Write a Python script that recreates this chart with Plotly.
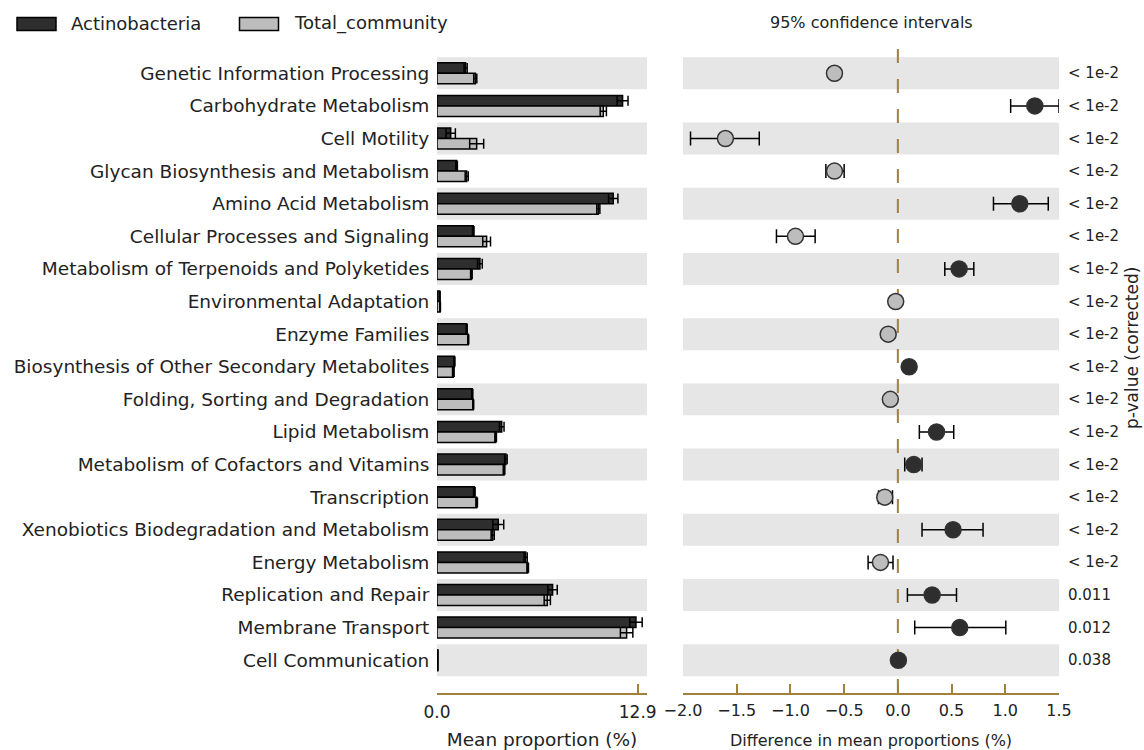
import plotly.graph_objects as go

categories = [
    "Genetic Information Processing",
    "Carbohydrate Metabolism",
    "Cell Motility",
    "Glycan Biosynthesis and Metabolism",
    "Amino Acid Metabolism",
    "Cellular Processes and Signaling",
    "Metabolism of Terpenoids and Polyketides",
    "Environmental Adaptation",
    "Enzyme Families",
    "Biosynthesis of Other Secondary Metabolites",
    "Folding, Sorting and Degradation",
    "Lipid Metabolism",
    "Metabolism of Cofactors and Vitamins",
    "Transcription",
    "Xenobiotics Biodegradation and Metabolism",
    "Energy Metabolism",
    "Replication and Repair",
    "Membrane Transport",
    "Cell Communication",
]

actino_mean = [1.84, 11.93, 0.88, 1.26, 11.33, 2.33, 2.76, 0.18, 1.91, 1.12, 2.27,
               4.16, 4.43, 2.40, 3.94, 5.70, 7.43, 12.79, 0.05]
actino_sd = [0.10, 0.35, 0.30, 0.05, 0.30, 0.05, 0.15, 0.02, 0.03, 0.03, 0.03,
             0.15, 0.08, 0.05, 0.35, 0.10, 0.30, 0.40, 0.01]
total_mean = [2.46, 10.69, 2.55, 1.91, 10.37, 3.19, 2.21, 0.20, 2.01, 1.05, 2.33,
              3.77, 4.31, 2.55, 3.58, 5.83, 7.09, 12.19, 0.05]
total_sd = [0.10, 0.20, 0.45, 0.10, 0.10, 0.25, 0.05, 0.02, 0.03, 0.05, 0.03,
            0.05, 0.05, 0.05, 0.10, 0.05, 0.20, 0.40, 0.01]

diff_mean = [-0.59, 1.275, -1.605, -0.59, 1.135, -0.953, 0.57, -0.02, -0.09, 0.105,
             -0.07, 0.36, 0.148, -0.122, 0.514, -0.162, 0.319, 0.576, 0.005]
diff_low = [-0.61, 1.05, -1.93, -0.67, 0.89, -1.13, 0.437, -0.035, -0.105, 0.09,
            -0.085, 0.20, 0.064, -0.18, 0.225, -0.277, 0.089, 0.157, -0.005]
diff_high = [-0.57, 1.50, -1.29, -0.50, 1.40, -0.77, 0.707, -0.005, -0.075, 0.12,
             -0.055, 0.52, 0.225, -0.05, 0.793, -0.045, 0.546, 1.005, 0.015]

p_values = ["< 1e-2"] * 16 + ["0.011", "0.012", "0.038"]

group_names = ["Actinobacteria", "Total_community"]

DARK = "#2e2e2e"
LIGHT = "#bdbdbd"
BAND = "#e6e6e6"
GOLD = "#a0813d"
TXT = "#222222"
FONT = "DejaVu Sans"

W, H = 1144, 750
idx = list(range(len(categories)))

fig = go.Figure()

fig.add_trace(go.Bar(
    name=group_names[0], orientation="h", x=actino_mean, y=idx,
    marker=dict(color=DARK, line=dict(color="black", width=1.5)),
    error_x=dict(type="data", array=actino_sd, color="black", thickness=1.5, width=5),
    xaxis="x", yaxis="y", showlegend=False,
))
fig.add_trace(go.Bar(
    name=group_names[1], orientation="h", x=total_mean, y=idx,
    marker=dict(color=LIGHT, line=dict(color="black", width=1.5)),
    error_x=dict(type="data", array=total_sd, color="black", thickness=1.5, width=5),
    xaxis="x", yaxis="y", showlegend=False,
))

err_plus = [h - m for h, m in zip(diff_high, diff_mean)]
err_minus = [m - l for m, l in zip(diff_mean, diff_low)]
pt_colors = [DARK if d > 0 else LIGHT for d in diff_mean]

fig.add_trace(go.Scatter(
    x=diff_mean, y=idx, mode="markers", xaxis="x2", yaxis="y",
    marker=dict(size=16, color=pt_colors, line=dict(color="#333333", width=1.5)),
    error_x=dict(type="data", symmetric=False, array=err_plus, arrayminus=err_minus,
                 color="black", thickness=1.5, width=7),
    showlegend=False,
))

shapes = []
for i in idx:
    if i % 2 == 0:
        for xr in ("x domain", "x2 domain"):
            shapes.append(dict(type="rect", xref=xr, yref="y", x0=0, x1=1,
                               y0=i - 0.49, y1=i + 0.49, fillcolor=BAND,
                               line=dict(width=0), layer="below"))
shapes.append(dict(type="line", xref="x2", yref="y domain", x0=0, x1=0, y0=1, y1=0,
                   line=dict(color=GOLD, width=2, dash="14px,16px"), layer="below"))


def px(x):
    return x / W


def py(y):
    return 1 - y / H


shapes.append(dict(type="rect", xref="paper", yref="paper", x0=px(17), x1=px(56),
                   y0=py(30.5), y1=py(17.5), fillcolor=DARK, line=dict(color="black", width=1.5)))
shapes.append(dict(type="rect", xref="paper", yref="paper", x0=px(239.5), x1=px(278.5),
                   y0=py(30.5), y1=py(17.5), fillcolor=LIGHT, line=dict(color="black", width=1.5)))

annotations = [
    dict(text=group_names[0], xref="paper", yref="paper", x=px(69), y=py(23.5),
         xanchor="left", yanchor="middle", showarrow=False, font=dict(size=18, color=TXT)),
    dict(text=group_names[1], xref="paper", yref="paper", x=px(292), y=py(23.5),
         xanchor="left", yanchor="middle", showarrow=False, font=dict(size=18, color=TXT)),
    dict(text="95% confidence intervals", xref="paper", yref="paper", x=px(871), y=py(23),
         xanchor="center", yanchor="middle", showarrow=False, font=dict(size=16, color=TXT)),
    dict(text="p-value (corrected)", xref="paper", yref="paper", x=px(1132), y=py(348),
         xanchor="center", yanchor="middle", textangle=-90, showarrow=False,
         font=dict(size=17, color=TXT)),
]
for i, p in zip(idx, p_values):
    annotations.append(dict(text=p, xref="paper", yref="y", x=px(1066), y=i,
                            xanchor="left", yanchor="middle", showarrow=False,
                            font=dict(size=15, color=TXT)))

fig.update_layout(
    width=W, height=H,
    margin=dict(l=0, r=0, t=0, b=0, pad=0, autoexpand=False),
    paper_bgcolor="white", plot_bgcolor="white",
    font=dict(family=FONT, color=TXT),
    barmode="group", bargap=0.356, bargroupgap=0,
    shapes=shapes, annotations=annotations,
    xaxis=dict(domain=[px(437), px(647)], range=[0, 13.5], anchor="y", automargin=False,
               tickvals=[0, 12.9], ticktext=["0.0", "12.9"],
               showline=True, linecolor=GOLD, linewidth=2, ticks="inside", ticklen=9,
               tickwidth=2, tickcolor=GOLD, showgrid=False, zeroline=False,
               ticklabelstandoff=3,
               tickfont=dict(size=17, color=TXT),
               title=dict(text="Mean proportion (%)", font=dict(size=18.5, color=TXT), standoff=14)),
    xaxis2=dict(domain=[px(683), px(1059)], range=[-2, 1.5], anchor="y", automargin=False,
                tickvals=[-2, -1.5, -1, -0.5, 0, 0.5, 1, 1.5], tickformat=".1f",
                showline=True, linecolor=GOLD, linewidth=2, ticks="inside", ticklen=9,
                tickwidth=2, tickcolor=GOLD, showgrid=False, zeroline=False,
                ticklabelstandoff=2,
                tickfont=dict(size=16, color=TXT),
                title=dict(text="Difference in mean proportions (%)", font=dict(size=16, color=TXT), standoff=16)),
    yaxis=dict(domain=[py(692.5), py(49)], range=[18.99, -0.745], automargin=False,
               tickvals=idx, ticktext=categories, showgrid=False, zeroline=False,
               showline=False, ticks="outside", ticklen=3, tickcolor="rgba(0,0,0,0)",
               tickfont=dict(size=18.5, color=TXT)),
)

fig.write_html("out.html")
